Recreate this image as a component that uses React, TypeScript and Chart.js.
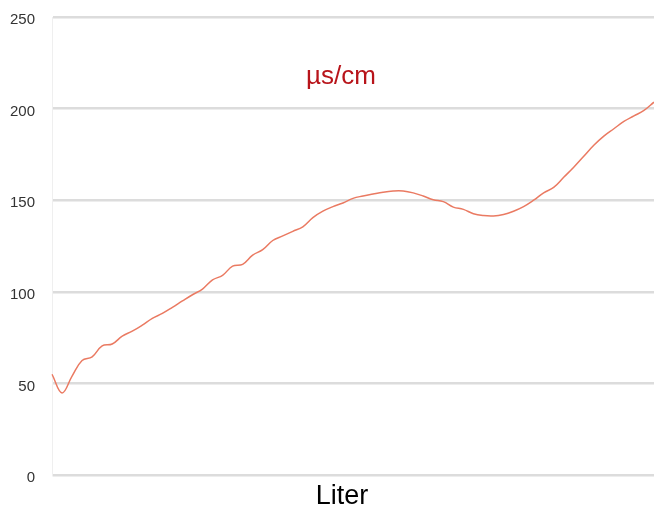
import React, { useEffect, useRef } from "react";
import { Chart, registerables } from "chart.js";

Chart.register(...registerables);

const conductivity: number[] = [
  55, 44.8, 54, 62.5, 64.5, 70.5, 71.5, 75.8, 78.5, 81.8,
  85.5, 88.2, 91.5, 95, 98.4, 101.5, 106.5, 109, 114, 115,
  120, 123, 128, 130.5, 133, 135.5, 140.5, 144, 146.5, 148.5,
  151, 152.3, 153.4, 154.4, 155, 155, 154, 152.3, 150.2, 149.2,
  146.2, 145, 142.6, 141.6, 141.4, 142.2, 144, 146.5, 150, 154,
  157, 162.5, 168, 174, 180, 185, 189, 193, 196, 199, 203.5,
];
const liters: string[] = conductivity.map((_, i) => String(i));
const yTicks: number[] = [0, 50, 100, 150, 200, 250];
const unitLabel = "µs/cm";
const xTitle = "Liter";

const SHIFT = 9;

const textPlugin = {
  id: "textPlugin",
  afterDraw(chart: any) {
    const { ctx } = chart;
    ctx.save();
    ctx.textAlign = "center";
    ctx.textBaseline = "alphabetic";
    ctx.fillStyle = "#b8141a";
    ctx.font = "26px 'Liberation Sans', Arial, sans-serif";
    ctx.fillText(unitLabel, 341, 84 + SHIFT);
    ctx.fillStyle = "#000000";
    ctx.font = "27px 'Liberation Sans', Arial, sans-serif";
    ctx.fillText(xTitle, 342, 504 + SHIFT);
    ctx.restore();
  },
};

export default function App() {
  const ref = useRef<HTMLCanvasElement | null>(null);
  useEffect(() => {
    if (!ref.current) return;
    const chart = new Chart(ref.current, {
      type: "line",
      data: {
        labels: liters,
        datasets: [
          {
            data: conductivity,
            borderColor: "#ea7a62",
            borderWidth: 1.5,
            pointRadius: 0,
            tension: 0.4,
            fill: false,
          },
        ],
      },
      options: {
        animation: false,
        responsive: true,
        maintainAspectRatio: false,
        layout: { padding: { left: 10, right: 0, top: 1, bottom: 31 } },
        plugins: { legend: { display: false }, tooltip: { enabled: false } },
        scales: {
          x: { display: false },
          y: {
            min: 0,
            max: 250,
            afterBuildTicks: (axis: any) => {
              axis.ticks = yTicks.map((v) => ({ value: v }));
            },
            afterFit: (axis: any) => {
              axis.width = 42;
            },
            ticks: {
              padding: 17,
              labelOffset: 3,
              color: "#333333",
              font: { family: "'Liberation Sans', Arial, sans-serif", size: 15 },
            },
            grid: { color: "#dcdcdc", lineWidth: 2.5, drawTicks: false },
            border: { display: true, color: "#efefef", width: 1 },
          },
        },
      },
      plugins: [textPlugin],
    });
    return () => chart.destroy();
  }, []);
  return (
    <div style={{ position: "fixed", left: 0, top: -SHIFT, width: 654, height: 506 + SHIFT }}>
      <canvas ref={ref} />
    </div>
  );
}
